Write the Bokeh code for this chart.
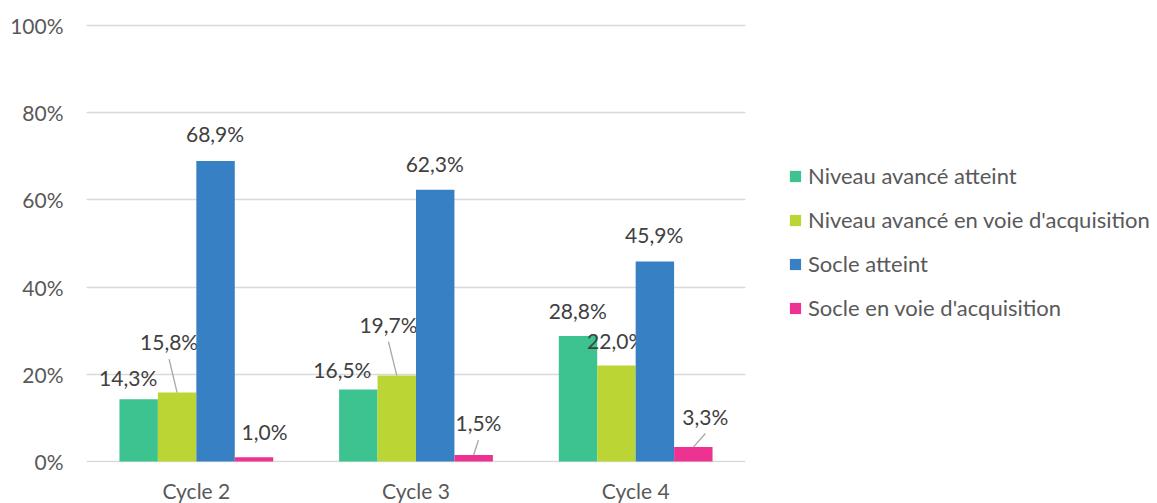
from bokeh.plotting import figure
from bokeh.models import (ColumnDataSource, Range1d, FixedTicker, PrintfTickFormatter,
                          Legend, LegendItem)
from bokeh.core.properties import value
from bokeh.embed import file_html
from bokeh.resources import INLINE

# ---- data ----
cycles = ["Cycle 2", "Cycle 3", "Cycle 4"]
series_names = ["Niveau avancé atteint", "Niveau avancé en voie d'acquisition",
                "Socle atteint", "Socle en voie d'acquisition"]
niveau_avance_atteint = [14.3, 16.5, 28.8]
niveau_avance_en_voie = [15.8, 19.7, 22.0]
socle_atteint = [68.9, 62.3, 45.9]
socle_en_voie = [1.0, 1.5, 3.3]
y_ticks = [0, 20, 40, 60, 80, 100]

# ---- style ----
colors = ["#3DC38F", "#BBD534", "#3880C4", "#EE3292"]
offsets = [-0.2625, -0.0875, 0.0875, 0.2625]
bar_w = 0.175
# label offsets in px (relative to bar centre / bar top, label centre)
label_dx = [[-10.5, -16, -0.3], [-8, -8.3, -0.3], [-0.5, -0.5, -0.7], [10.5, 4.8, 12]]
label_dy = [[-20.7, -20, -24.7], [-50.5, -51, -25], [-26.6, -25.7, -26], [-25.6, -32, -30.6]]
leaders = [[False, False, False], [True, True, False], [False, False, False], [False, True, True]]

FONT = "Lato"
TXT = "#404040"
AX = "#595959"
GRID = "#D9D9D9"
frame_w = 659
y_lo, y_hi = -0.23, 100.46
px_y = 4.36
frame_h = round((y_hi - y_lo) * px_y)
px_x = frame_w / 3.0

p = figure(frame_width=frame_w, frame_height=frame_h, output_backend="svg", toolbar_location=None,
           x_range=Range1d(-0.5, 2.5), y_range=Range1d(y_lo, y_hi),
           min_border_left=86, min_border_right=412, min_border_top=23, min_border_bottom=41)
p.outline_line_color = None
p.background_fill_color = "white"
p.border_fill_color = "white"

p.xgrid.grid_line_color = None
p.ygrid.grid_line_color = GRID
p.ygrid.grid_line_width = 1.3
p.yaxis.ticker = FixedTicker(ticks=y_ticks)
p.yaxis.formatter = PrintfTickFormatter(format="%d%%")
p.xaxis.ticker = FixedTicker(ticks=list(range(len(cycles))))
p.xaxis.major_label_overrides = {i: c for i, c in enumerate(cycles)}

for ax in (p.xaxis[0], p.yaxis[0]):
    ax.axis_line_color = None
    ax.major_tick_line_color = None
    ax.minor_tick_line_color = None
    ax.major_tick_out = 0
    ax.major_tick_in = 0
    ax.minor_tick_out = 0
    ax.minor_tick_in = 0
    ax.axis_label_standoff = 0
    ax.major_label_text_font = FONT
    ax.major_label_text_font_size = "21px"
    ax.major_label_text_color = AX
p.yaxis.major_label_standoff = 23
p.xaxis.major_label_standoff = 15

all_series = [niveau_avance_atteint, niveau_avance_en_voie, socle_atteint, socle_en_voie]
renderers = []
for s, (vals, col, off) in enumerate(zip(all_series, colors, offsets)):
    xs = [i + off for i in range(len(cycles))]
    src = ColumnDataSource(dict(x=xs, top=vals))
    r = p.vbar(x="x", top="top", width=bar_w, source=src, fill_color=col, line_color=None)
    renderers.append(r)

    labels = [f"{v:.1f}%".replace(".", ",") for v in vals]
    dxs = label_dx[s]
    dys = [d - 0.5 for d in label_dy[s]]  # centre -> baseline (empirical)
    lsrc = ColumnDataSource(dict(x=xs, y=vals, t=labels, dx=dxs, dy=dys))
    p.text(x="x", y="y", text="t", source=lsrc, x_offset="dx", y_offset="dy",
           text_align="center", text_baseline="alphabetic",
           text_font=value(FONT), text_font_size="21px", text_color=TXT)

    # leader lines
    lx0, lx1, ly0, ly1 = [], [], [], []
    for i in range(len(cycles)):
        if leaders[s][i]:
            lx0.append(xs[i])
            ly0.append(vals[i])
            lx1.append(xs[i] + dxs[i] / px_x)
            ly1.append(vals[i] + (-label_dy[s][i] - 17) / px_y)
    if lx0:
        p.segment(x0=lx0, y0=ly0, x1=lx1, y1=ly1, line_color="#A6A6A6", line_width=1.3)

legend = Legend(items=[LegendItem(label=n, renderers=[r]) for n, r in zip(series_names, renderers)],
                location=(43, 141), orientation="vertical")
legend.label_text_font = FONT
legend.label_text_font_size = "22px"
legend.label_text_color = AX
legend.glyph_width = 14
legend.glyph_height = 14
legend.label_standoff = 6
legend.label_height = 25
legend.spacing = 17
legend.padding = 0
legend.margin = 0
legend.border_line_color = None
legend.background_fill_alpha = 0
p.add_layout(legend, "right")

open("out.html", "w").write(file_html(p, INLINE))
